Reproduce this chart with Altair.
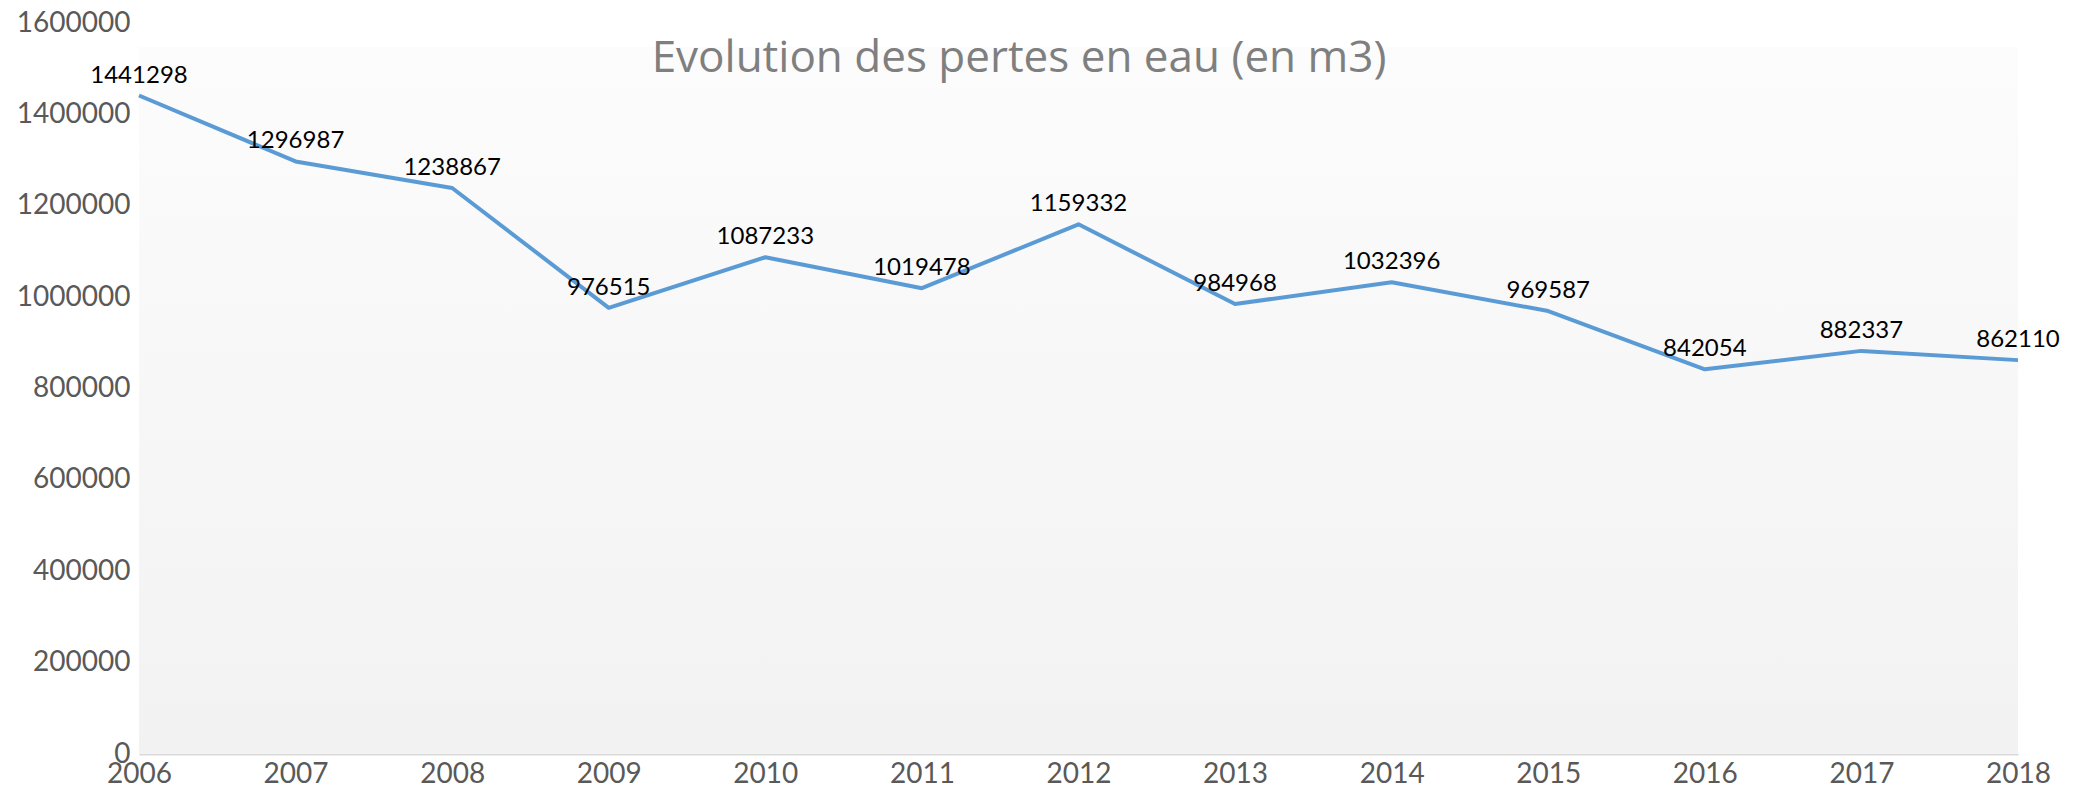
import altair as alt
import pandas as pd

years = [2006, 2007, 2008, 2009, 2010, 2011, 2012, 2013, 2014, 2015, 2016, 2017, 2018]
pertes = [1441298, 1296987, 1238867, 976515, 1087233, 1019478, 1159332,
          984968, 1032396, 969587, 842054, 882337, 862110]
y_ticks = [0, 200000, 400000, 600000, 800000, 1000000, 1200000, 1400000, 1600000]
title_text = "Evolution des pertes en eau (en m3)"

W, H = 1879, 731
FONT = "Lato"

df = pd.DataFrame({"annee": years, "pertes": pertes})

x_enc = alt.X("annee:Q",
              scale=alt.Scale(domain=[years[0], years[-1]], nice=False, zero=False),
              axis=alt.Axis(values=years, format="d", title=None, grid=False,
                            ticks=False, domain=True, domainColor="#d9d9d9",
                            domainWidth=2, labelFont=FONT, labelFontSize=28,
                            labelColor="#595959", labelPadding=6,
                            labelFlush=False, labelOverlap=False))
y_enc = alt.Y("pertes:Q",
              scale=alt.Scale(domain=[0, 1600000], nice=False),
              axis=alt.Axis(values=y_ticks, format="d", title=None, grid=False,
                            ticks=False, domain=False, labelFont=FONT,
                            labelFontSize=28, labelColor="#595959",
                            labelPadding=9, labelFlush=False, labelOverlap=False))

bg = alt.Chart(pd.DataFrame({"k": [0]})).mark_rect(
    color=alt.Gradient(gradient="linear",
                       stops=[alt.GradientStop(color="#fcfcfc", offset=0),
                              alt.GradientStop(color="#f2f2f2", offset=1)],
                       x1=0, x2=0, y1=0, y2=1)
).encode(x=alt.value(0), x2=alt.value(W), y=alt.value(24), y2=alt.value(H))

line = alt.Chart(df).mark_line(color="#5B9BD5", strokeWidth=4,
                               strokeJoin="round").encode(x=x_enc, y=y_enc)

labels = alt.Chart(df).mark_text(font=FONT, fontSize=24, color="#000000",
                                 baseline="alphabetic", dy=-13).encode(
    x="annee:Q", y="pertes:Q", text=alt.Text("pertes:Q", format="d"))

title = alt.Chart(pd.DataFrame({"t": [title_text]})).mark_text(
    font="Open Sans", fontSize=44, fontWeight="normal", color="#7f7f7f",
    align="center", baseline="alphabetic"
).encode(text="t:N", x=alt.value(880), y=alt.value(49))

chart = alt.layer(bg, line, labels, title).properties(
    width=W, height=H,
    autosize=alt.AutoSizeParams(type="none"),
    padding={"left": 139, "right": 64, "top": 23, "bottom": 36},
    background="#ffffff"
).configure_view(stroke=None)

chart.save("out.html", embed_options={"renderer": "svg", "actions": False})
